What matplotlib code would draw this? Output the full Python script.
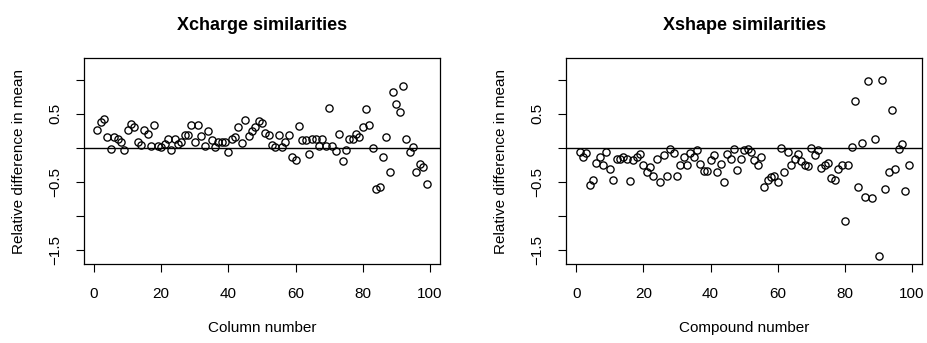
import matplotlib
matplotlib.use("Agg")
import matplotlib.pyplot as plt
import numpy as np

plt.rcParams['font.family'] = ['Liberation Sans', 'DejaVu Sans']

# Xcharge similarities (Column number 1..99)
charge_x = list(range(1, 100))
charge_y = [0.257, 0.38, 0.416, 0.163, -0.015, 0.15, 0.13, 0.08, -0.04, 0.26,
            0.35, 0.30, 0.085, 0.035, 0.26, 0.20, 0.025, 0.33, 0.03, 0.005,
            0.06, 0.13, -0.03, 0.13, 0.055, 0.085, 0.19, 0.18, 0.34, 0.09,
            0.34, 0.17, 0.025, 0.25, 0.12, 0.01, 0.08, 0.08, 0.08, -0.07,
            0.13, 0.15, 0.30, 0.065, 0.40, 0.17, 0.25, 0.31, 0.386, 0.36,
            0.21, 0.18, 0.045, 0.015, 0.18, 0.015, 0.085, 0.19, -0.13, -0.18,
            0.32, 0.11, 0.11, -0.09, 0.13, 0.13, 0.025, 0.13, 0.025, 0.58,
            0.03, -0.045, 0.20, -0.20, -0.035, 0.13, 0.13, 0.20, 0.16, 0.30,
            0.57, 0.34, 0.0, -0.60, -0.58, -0.14, 0.16, -0.36, 0.81, 0.64,
            0.52, 0.90, 0.13, -0.07, 0.01, -0.36, -0.24, -0.29, -0.54]

# Xshape similarities (Compound number 1..99)
shape_x = list(range(1, 100))
shape_y = [-0.07, -0.13, -0.08, -0.545, -0.48, -0.23, -0.14, -0.26, -0.07, -0.32,
           -0.47, -0.17, -0.17, -0.13, -0.17, -0.485, -0.18, -0.14, -0.09, -0.26,
           -0.35, -0.29, -0.42, -0.16, -0.51, -0.11, -0.42, -0.025, -0.075, -0.42,
           -0.26, -0.14, -0.25, -0.085, -0.14, -0.035, -0.24, -0.34, -0.34, -0.18,
           -0.11, -0.36, -0.24, -0.51, -0.10, -0.165, -0.015, -0.33, -0.165, -0.035,
           -0.025, -0.07, -0.18, -0.26, -0.13, -0.57, -0.48, -0.43, -0.42, -0.51,
           -0.005, -0.36, -0.065, -0.26, -0.16, -0.10, -0.19, -0.26, -0.27, -0.005,
           -0.11, -0.035, -0.30, -0.26, -0.23, -0.45, -0.47, -0.32, -0.25, -1.08,
           -0.26, 0.005, 0.68, -0.58, 0.075, -0.72, 0.985, -0.74, 0.13, -1.59,
           1.00, -0.60, -0.35, 0.56, -0.31, -0.015, 0.05, -0.64, -0.26]

titles = ["Xcharge similarities", "Xshape similarities"]
xlabels = ["Column number", "Compound number"]
ylabel = "Relative difference in mean"
xticks = [0, 20, 40, 60, 80, 100]
yticks = [1.0, 0.5, 0.0, -0.5, -1.0, -1.5]
yticklabels = ["", "0.5", "", "\u22120.5", "", "\u22121.5"]

W, H = 928, 343
fig = plt.figure(figsize=(W / 100, H / 100), dpi=100)

panels = [(charge_x, charge_y), (shape_x, shape_y)]
lefts = [84.2, 566.4]
for i, (xs, ys) in enumerate(panels):
    ax = fig.add_axes([lefts[i] / W, 78.7 / H, 355.5 / W, 206.0 / H])
    ax.plot(xs, ys, linestyle='none', marker='o', markersize=5.2,
            markerfacecolor='none', markeredgecolor='black', markeredgewidth=0.95)
    ax.axhline(0, color='black', linewidth=1.0)
    ax.set_xlim(-2.92, 102.92)
    ax.set_ylim(-1.712, 1.312)
    ax.set_xticks(xticks)
    ax.set_xticklabels([str(t) for t in xticks])
    ax.set_yticks(yticks)
    ax.set_yticklabels(yticklabels, rotation=90, va='center')
    ax.tick_params(axis='both', direction='out', length=6, width=0.8,
                   labelsize=11, color='black')
    ax.tick_params(axis='x', pad=10)
    ax.tick_params(axis='y', pad=10)
    for s in ax.spines.values():
        s.set_linewidth(0.9)
    ax.set_title(titles[i], fontsize=13, fontweight='bold', pad=20.5)
    ax.set_xlabel(xlabels[i], fontsize=11, labelpad=15)
    ax.set_ylabel(ylabel, fontsize=11, labelpad=16)

fig.savefig("out.png", dpi=100)
